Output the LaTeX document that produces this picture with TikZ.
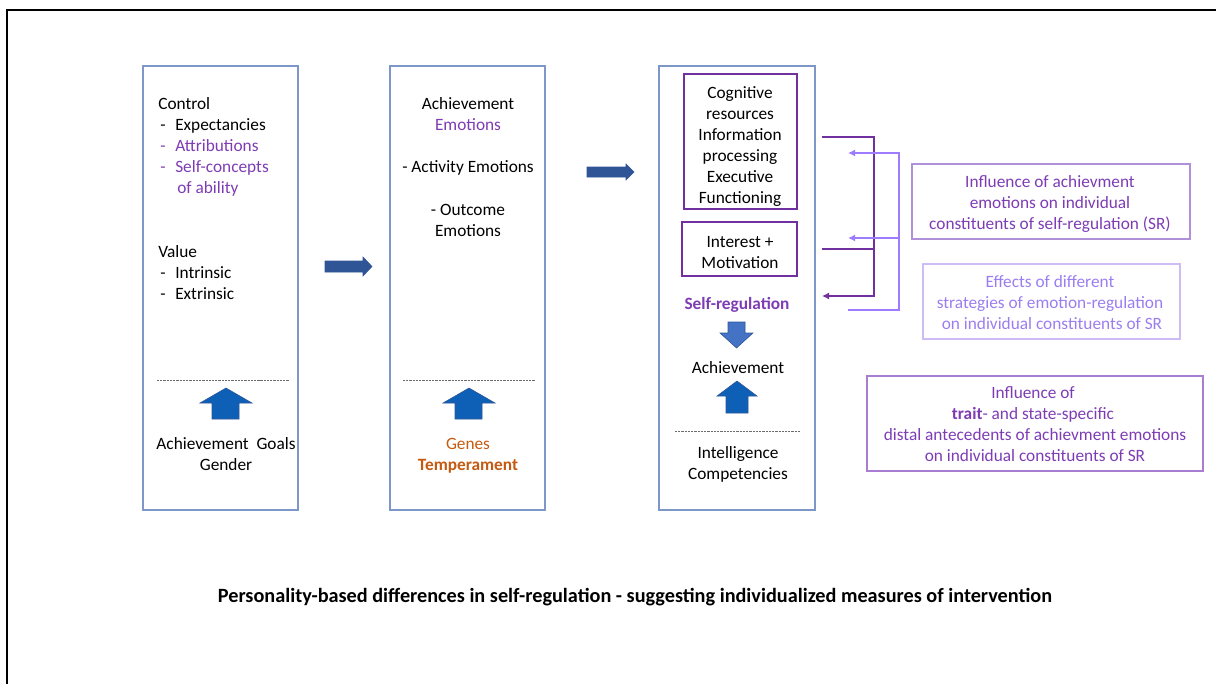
\documentclass[tikz,border=0pt]{standalone}
\usepackage{fontspec}
\setmainfont{Carlito}
\usetikzlibrary{arrows.meta}
\definecolor{boxblue}{RGB}{125,152,200}
\definecolor{dkpurple}{RGB}{112,48,160}
\definecolor{txtpurple}{RGB}{125,60,180}
\definecolor{ltpurple}{RGB}{158,123,255}
\definecolor{orangetx}{RGB}{197,90,17}
\definecolor{arrblue}{RGB}{14,96,182}
\definecolor{arrlight}{RGB}{68,114,196}
\definecolor{arrdark}{RGB}{47,85,151}
\definecolor{bordA}{RGB}{176,144,216}
\definecolor{bordB}{RGB}{205,188,246}
\definecolor{bordC}{RGB}{168,125,210}
\definecolor{txtB}{RGB}{155,125,240}
\newcommand{\bodyfont}{\fontsize{12.3}{15}\selectfont}
\tikzset{
  ln/.style={font=\bodyfont, inner sep=0pt, anchor=base},
  lnw/.style={ln, anchor=base west},
  column/.style={draw=boxblue, line width=1pt},
  inbox/.style={draw=dkpurple, line width=1.6pt},
  sep/.style={draw=gray!85!black, line width=0.7pt, dash pattern=on 1.6pt off 0.7pt},
  blockarrow/.style={line width=0.4pt},
  dk/.style={draw=dkpurple, line width=1.3pt},
  lt/.style={draw=ltpurple, line width=1.3pt},
  tip/.style={-{Latex[length=5pt,width=5pt]}}
}
\begin{document}
\begin{tikzpicture}[x=0.025cm, y=-0.025cm]
\useasboundingbox (0,0) rectangle (1216,684);
% page frame
\draw[line width=1.6pt] (7,684) -- (7,10) -- (1216,10);

% three columns
\draw[column] (143,66) rectangle (298,510);
\draw[column] (390,66) rectangle (545,510);
\draw[column] (659,66) rectangle (815,510);

% column 1
\node[lnw] (ctrl) at (158,109) {Control};
\node[lnw] (d1) at (160,130) {-};
\node[lnw] (exp) at (175,130) {Expectancies};
\node[lnw, text=txtpurple] (d2) at (160,151) {-};
\node[lnw, text=txtpurple] (attr) at (175,151) {Attributions};
\node[lnw, text=txtpurple] (d3) at (160,172) {-};
\node[lnw, text=txtpurple] (self) at (175,172) {Self-concepts};
\node[lnw, text=txtpurple] (abil) at (177,193) {of ability};
\node[lnw] (val) at (158,257) {Value};
\node[lnw] (d4) at (160,278) {-};
\node[lnw] (intr) at (175,278) {Intrinsic};
\node[lnw] (d5) at (160,299) {-};
\node[lnw] (extr) at (175,299) {Extrinsic};
\draw[sep] (157,380) -- (289,380);
\filldraw[blockarrow, fill=arrblue, draw=arrdark] (212,419) -- (212,403) -- (200,403) -- (226,388) -- (252,403) -- (239,403) -- (239,419) -- cycle;
\node[ln] (goals) at (226,449) {Achievement\ \ Goals};
\node[ln] (gend) at (226,470) {Gender};

% arrow column 1 -> column 2
\filldraw[blockarrow, fill=arrdark, draw=arrdark] (325,261) -- (363,261) -- (363,257) -- (372,266.5) -- (363,276) -- (363,272) -- (325,272) -- cycle;

% column 2
\node[ln] (ach2) at (468,109) {Achievement};
\node[ln, text=txtpurple] (emo) at (468,130) {Emotions};
\node[ln] (act) at (468,172) {- Activity Emotions};
\node[ln] (out) at (468,215) {- Outcome};
\node[ln] (oute) at (468,236) {Emotions};
\draw[sep] (403,380) -- (535,380);
\filldraw[blockarrow, fill=arrblue, draw=arrdark] (455,419) -- (455,403) -- (443,403) -- (469,388) -- (495,403) -- (482,403) -- (482,419) -- cycle;
\node[ln, text=orangetx] (genes) at (468,449) {Genes};
\node[ln, text=orangetx, font=\bodyfont\bfseries] (temp) at (468,470) {Temperament};

% arrow column 2 -> column 3
\filldraw[blockarrow, fill=arrdark, draw=arrdark] (587,167) -- (626,167) -- (626,164) -- (634,172) -- (626,180) -- (626,177) -- (587,177) -- cycle;

% column 3
\draw[inbox] (684,74) rectangle (797,209);
\node[ln] (cog1) at (740,98) {Cognitive};
\node[ln] (cog2) at (740,119) {resources};
\node[ln] (cog3) at (740,140) {Information};
\node[ln] (cog4) at (740,161) {processing};
\node[ln] (cog5) at (740,182) {Executive};
\node[ln] (cog6) at (740,203) {Functioning};
\draw[inbox] (682,222) rectangle (797,276);
\node[ln] (int1) at (740,247) {Interest +};
\node[ln] (int2) at (740,268) {Motivation};
\node[ln, text=txtpurple, font=\bodyfont\bfseries] (sr) at (737,309) {Self-regulation};
\filldraw[blockarrow, fill=arrlight, draw=arrdark] (728,322) -- (745,322) -- (745,333) -- (753,333) -- (736.5,348) -- (720,333) -- (728,333) -- cycle;
\node[ln] (ach3) at (738,373) {Achievement};
\filldraw[blockarrow, fill=arrblue, draw=arrdark] (726,413) -- (726,396) -- (717,396) -- (737,381) -- (757,396) -- (748,396) -- (748,413) -- cycle;
\draw[sep] (675,431) -- (800,431);
\node[ln] (intel) at (738,458) {Intelligence};
\node[ln] (comp) at (738,479) {Competencies};

% feedback connectors
\coordinate (dA) at (822,137);
\coordinate (dB) at (822,249);
\coordinate (dC) at (822,296);
\coordinate (dJ) at (874,296);
\draw[dk, tip] (dA) -| (dJ) -- (dC);
\draw[dk] (dB) -- (dB -| dJ);
\coordinate (lS) at (848,310);
\coordinate (lJ) at (899,310);
\coordinate (lA) at (848,153);
\coordinate (lB) at (848,238);
\draw[lt, tip] (lS) -- (lJ) |- (lA);
\draw[lt, tip] (lJ |- lB) -- (lB);

% right-hand notes
\draw[draw=bordA, line width=1pt] (912,164) rectangle (1190,239);
\node[ln, text=txtpurple] (a1) at (1050,187) {Influence of achievment};
\node[ln, text=txtpurple] (a2) at (1050,208) {emotions\ on individual};
\node[ln, text=txtpurple] (a3) at (1050,229) {constituents of self-regulation\ (SR)};
\draw[draw=bordB, line width=1pt] (923,264) rectangle (1180,339);
\node[ln, text=txtB] (b1) at (1050,287) {Effects of different};
\node[ln, text=txtB] (b2) at (1050,308) {strategies of emotion-regulation};
\node[ln, text=txtB] (b3) at (1052,329) {on individual\ constituents of SR};
\draw[draw=bordC, line width=1pt] (867,376) rectangle (1203,471);
\node[ln, text=txtpurple] (c1) at (1033,398) {Influence of};
\node[ln, text=txtpurple] (c2) at (1033,419) {\textbf{trait}- and state-specific};
\node[ln, text=txtpurple] (c3) at (1035,440) {distal antecedents of achievment emotions};
\node[ln, text=txtpurple] (c4) at (1035,461) {on individual\ constituents of SR};

% caption
\node[ln, font=\fontsize{14.4}{17}\selectfont\bfseries] (title) at (635,602) {Personality-based differences in self-regulation - suggesting individualized measures of intervention};
\end{tikzpicture}
\end{document}
